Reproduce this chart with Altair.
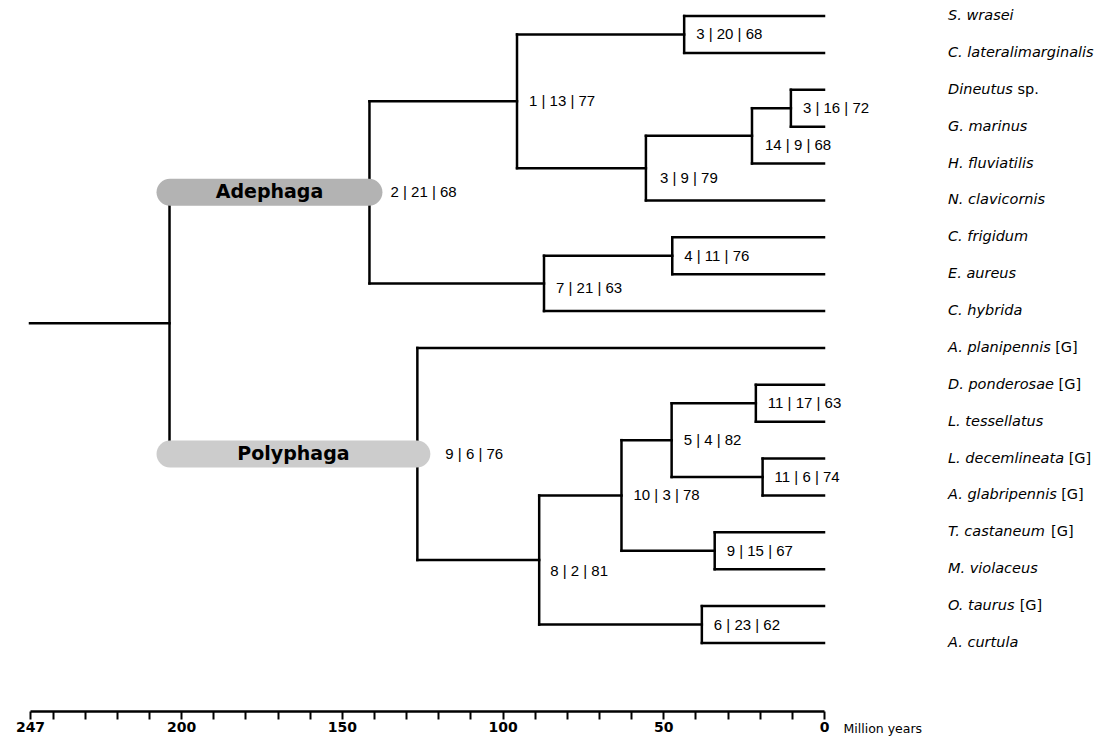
import altair as alt
import pandas as pd

# ---------------- data ----------------
tip_names = ["S. wrasei", "C. lateralimarginalis", "Dineutus", "G. marinus",
             "H. fluviatilis", "N. clavicornis", "C. frigidum", "E. aureus",
             "C. hybrida", "A. planipennis", "D. ponderosae", "L. tessellatus",
             "L. decemlineata", "A. glabripennis", "T. castaneum", "M. violaceus",
             "O. taurus", "A. curtula"]
tip_suffix = ["", "", "sp.", "", "", "", "", "", "", "[G]", "[G]", "", "[G]",
              "[G]", "[G]", "", "[G]", ""]

node_ids = ["sc", "dg", "dgh", "dghn", "top", "ce", "cec", "adephaga",
            "dl", "la", "dlla", "tm", "n10", "oa", "n8", "polyphaga", "root"]
node_children = [("S. wrasei", "C. lateralimarginalis"), ("Dineutus", "G. marinus"),
                 ("dg", "H. fluviatilis"), ("dgh", "N. clavicornis"), ("sc", "dghn"),
                 ("C. frigidum", "E. aureus"), ("ce", "C. hybrida"), ("top", "cec"),
                 ("D. ponderosae", "L. tessellatus"), ("L. decemlineata", "A. glabripennis"),
                 ("dl", "la"), ("T. castaneum", "M. violaceus"), ("dlla", "tm"),
                 ("O. taurus", "A. curtula"), ("n10", "oa"), ("A. planipennis", "n8"),
                 ("adephaga", "polyphaga")]
node_ages = [43.5, 10.3, 22.4, 55.4, 95.5, 47.2, 87.1, 141.4,
             21.2, 19.1, 47.4, 34.0, 63.0, 38.0, 88.6, 126.5, 203.6]
node_labels = ["3 | 20 | 68", "3 | 16 | 72", "14 | 9 | 68", "3 | 9 | 79", "1 | 13 | 77",
               "4 | 11 | 76", "7 | 21 | 63", "2 | 21 | 68", "11 | 17 | 63", "11 | 6 | 74",
               "5 | 4 | 82", "9 | 15 | 67", "10 | 3 | 78", "6 | 23 | 62", "8 | 2 | 81",
               "9 | 6 | 76", ""]
clade_names = ["Adephaga", "Polyphaga"]
clade_nodes = ["adephaga", "polyphaga"]
axis_start = 247
tick_values = [247, 240, 230, 220, 210, 200, 190, 180, 170, 160, 150, 140, 130,
               120, 110, 100, 90, 80, 70, 60, 50, 40, 30, 20, 10, 0]

# ---------------- styling ----------------
W, H = 794, 627
TIP_FS = 14.5
NODE_FS = 15
clade_colors = ["#b3b3b3", "#cccccc"]
# label nudges (dx, dy) in px for particular nodes; default (12, 0)
nudge = {"dgh": (13, 9), "dghn": (14, 10), "cec": (12, 5), "n8": (11, 11),
         "adephaga": (21, 0), "polyphaga": (28, 0)}

# DejaVu Sans advance widths (per 1000 em) for measuring the italic part
CW = {" ": 318, ".": 318, "[": 390, "]": 390, "a": 613, "b": 635, "c": 550, "d": 635,
      "e": 615, "f": 352, "g": 635, "h": 634, "i": 278, "l": 278, "m": 974, "n": 634,
      "o": 612, "p": 635, "r": 411, "s": 521, "t": 392, "u": 634, "v": 592, "w": 818,
      "y": 592, "x": 592, "k": 579, "z": 525, "A": 684, "C": 698, "D": 770, "E": 632,
      "G": 775, "H": 752, "L": 557, "M": 863, "N": 748, "O": 787, "S": 635, "T": 611}


def text_w(s, fs):
    return sum(CW.get(ch, 600) for ch in s) * fs / 1000.0


# ---------------- tree layout ----------------
ypos = {n: float(i) for i, n in enumerate(tip_names)}
age = {n: 0.0 for n in tip_names}
children = dict(zip(node_ids, node_children))
age.update(dict(zip(node_ids, node_ages)))


def get_y(n):
    if n not in ypos:
        c1, c2 = children[n]
        ypos[n] = (get_y(c1) + get_y(c2)) / 2.0
    return ypos[n]


for nid in node_ids:
    get_y(nid)

segs = []
for nid in node_ids:
    c1, c2 = children[nid]
    segs.append(dict(x=age[nid], x2=age[nid], y=ypos[c1], y2=ypos[c2]))
    for c in (c1, c2):
        segs.append(dict(x=age[nid], x2=age[c], y=ypos[c], y2=ypos[c]))
segs.append(dict(x=axis_start, x2=age["root"], y=ypos["root"], y2=ypos["root"]))
seg_df = pd.DataFrame(segs)

clade_df = pd.DataFrame({
    "name": clade_names,
    "x": [age["root"]] * len(clade_names),
    "x2": [age[c] for c in clade_nodes],
    "y": [ypos[c] for c in clade_nodes],
})
clade_df["xm"] = (clade_df["x"] + clade_df["x2"]) / 2

lab_rows = []
for nid, lab in zip(node_ids, node_labels):
    if lab:
        dx, dy = nudge.get(nid, (12, 0))
        lab_rows.append(dict(x=age[nid], y=ypos[nid], label=lab, g=f"{dx}_{dy}", dx=dx, dy=dy))
lab_df = pd.DataFrame(lab_rows)

TIP_DX = 124
px_per_unit = W / axis_start
tip_df = pd.DataFrame({
    "x": [0.0] * len(tip_names),
    "y": [ypos[n] for n in tip_names],
    "name": tip_names,
    "suffix": tip_suffix,
})
# suffix (upright) placed right after the italic name, converted to axis units
tip_df["xs"] = [-(TIP_DX + text_w(n, TIP_FS) + text_w(" ", TIP_FS)) / px_per_unit
                for n in tip_names]
suf_df = tip_df[tip_df["suffix"] != ""]

# ---------------- chart ----------------
xscale = alt.Scale(domain=[247, 0], nice=False, zero=False)
yscale = alt.Scale(domain=[0, 17], reverse=True, nice=False, zero=False)
xaxis = alt.Axis(
    values=tick_values, format="d",
    labelExpr="datum.value == 247 || datum.value % 50 == 0 ? datum.label : ''",
    orient="bottom", offset=68, grid=False,
    domainColor="black", domainWidth=2.5,
    tickColor="black", tickWidth=2, tickSize=8,
    labelFont="DejaVu Sans", labelFontSize=14, labelFontWeight="bold",
    labelColor="black", labelPadding=1, labelOverlap=False, labelFlush=False,
    title="Million years", titleX=813, titleY=17, titleAlign="left",
    titleBaseline="middle", titleFont="DejaVu Sans", titleFontSize=12.5,
    titleFontWeight="normal", titleColor="black", titleAngle=0,
)


def X(f):
    return alt.X(f"{f}:Q", scale=xscale, axis=xaxis)


def Y(f):
    return alt.Y(f"{f}:Q", scale=yscale, axis=None)


branches = alt.Chart(seg_df).mark_rule(
    color="black", strokeWidth=2.5, strokeCap="square"
).encode(x=X("x"), x2="x2:Q", y=Y("y"), y2="y2:Q")

boxes = alt.Chart(clade_df).mark_rect(
    cornerRadius=13.5, xOffset=-13, x2Offset=13, yOffset=-13.5, y2Offset=13.5
).encode(
    x=X("x"), x2="x2:Q", y=Y("y"), y2="y:Q",
    color=alt.Color("name:N", scale=alt.Scale(domain=clade_names, range=clade_colors), legend=None),
)

clade_text = alt.Chart(clade_df).mark_text(
    font="DejaVu Sans", fontWeight="bold", fontSize=19, color="black",
    align="center", baseline="middle"
).encode(x=X("xm"), y=Y("y"), text="name:N")

label_layers = []
for g, sub in lab_df.groupby("g"):
    dx = int(sub["dx"].iloc[0])
    dy = int(sub["dy"].iloc[0])
    label_layers.append(
        alt.Chart(sub).mark_text(
            font="Liberation Sans", fontSize=NODE_FS, color="black",
            align="left", baseline="middle", dx=dx, dy=dy
        ).encode(x=X("x"), y=Y("y"), text="label:N")
    )

tip_text = alt.Chart(tip_df).mark_text(
    font="DejaVu Sans", fontStyle="italic", fontSize=TIP_FS, color="black",
    align="left", baseline="middle", dx=TIP_DX
).encode(x=X("x"), y=Y("y"), text="name:N")

suf_text = alt.Chart(suf_df).mark_text(
    font="DejaVu Sans", fontSize=TIP_FS, color="black",
    align="left", baseline="middle", clip=False
).encode(x=X("xs"), y=Y("y"), text="suffix:N")

chart = alt.layer(branches, boxes, clade_text, *label_layers, tip_text, suf_text).properties(
    width=W, height=H,
    autosize=alt.AutoSizeParams(type="none"),
    padding={"left": 22, "top": 8, "right": 278, "bottom": 94},
    background="white",
).configure_view(stroke=None)

chart.save("out.html", embed_options={"renderer": "svg", "actions": False})
